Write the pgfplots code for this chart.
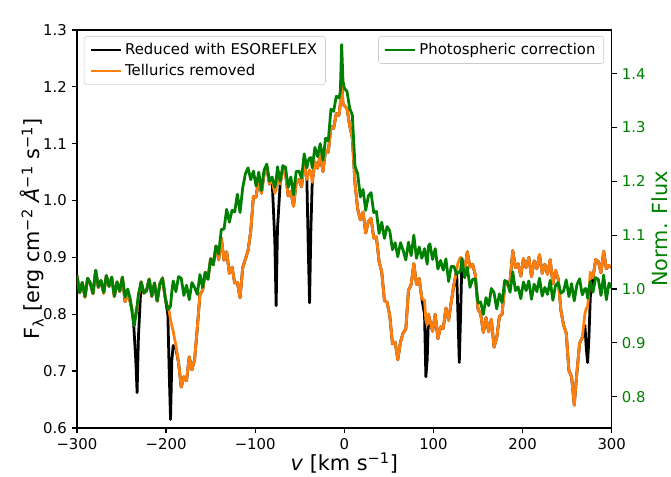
\documentclass[border=0pt]{standalone}
\usepackage{pgfplots}
\pgfplotsset{compat=1.18}
\usepackage{pgfplotstable}
\usepackage{fontspec}
\setmainfont{DejaVu Sans}
\definecolor{mplorange}{HTML}{FF7F0E}
\definecolor{mplgreen}{HTML}{008000}

\pgfplotstableread{
x b o g
-300 .868 .868 1.025
-297 .838 .838 .993
-294 .856 .856 1.012
-291 .830 .830 .986
-288 .863 .863 1.020
-285 .854 .854 1.011
-282 .836 .836 .992
-279 .877 .877 1.035
-276 .847 .847 1.004
-273 .859 .859 1.016
-270 .837 .837 .994
-267 .868 .868 1.025
-264 .849 .849 1.005
-261 .865 .865 1.022
-258 .831 .831 .987
-255 .857 .857 1.013
-252 .840 .840 .996
-249 .865 .865 1.022
-246 .822 .822 .985
-243 .838 .838 1.000
-240 .820 .820 .980
-237 .800 .800 .942
-235.5 .760 .790 .932
-234 .720 .795 .953
-232.5 .662 .810 .969
-231 .760 .830 .990
-228 .857 .857 1.013
-225 .837 .837 .993
-222 .841 .841 .997
-219 .862 .862 1.018
-216 .831 .831 .987
-213 .855 .855 1.011
-210 .823 .823 .978
-207 .853 .853 1.009
-204 .864 .864 1.020
-201 .829 .829 .985
-198 .800 .811 .962
-196.5 .700 .805 .964
-195 .615 .790 .968
-193.5 .720 .780 .996
-192 .745 .770 1.015
-189 .740 .745 .995
-186 .715 .715 1.023
-183 .672 .672 1.020
-180 .690 .690 .988
-177 .683 .683 1.007
-174 .725 .725 .980
-171 .702 .702 1.012
-168 .720 .720 1.003
-165 .775 .775 .990
-162 .835 .835 1.027
-159 .842 .842 1.003
-156 .874 .874 1.031
-153 .862 .862 1.018
-150 .898 .898 1.056
-147 .887 .887 1.045
-144 .920 .920 1.080
-141 .896 .896 1.065
-138 .934 .934 1.111
-135 .895 .895 1.111
-132 .910 .910 1.148
-129 .872 .872 1.124
-126 .883 .883 1.146
-123 .855 .855 1.143
-120 .856 .856 1.176
-117 .829 .829 1.142
-114 .882 .882 1.188
-111 .897 .897 1.214
-108 .912 .912 1.225
-105 .946 .946 1.203
-102 1.007 1.007 1.219
-99 1.006 1.006 1.191
-96 1.040 1.040 1.217
-93 1.013 1.013 1.183
-90 1.048 1.048 1.221
-87 1.059 1.059 1.232
-84 1.029 1.029 1.200
-81 1.036 1.036 1.208
-78 .930 1.013 1.189
-76.5 .815 1.020 1.201
-75 .950 1.044 1.227
-72 1.029 1.029 1.200
-69 1.056 1.056 1.229
-66 1.048 1.048 1.226
-63 1.008 1.008 1.189
-60 1.016 1.016 1.208
-57 .990 .990 1.175
-54 1.031 1.031 1.218
-51 1.037 1.037 1.219
-48 1.024 1.024 1.206
-45 1.067 1.067 1.251
-42 1.037 1.037 1.225
-40.5 .920 1.045 1.238
-39 .820 1.054 1.243
-37.5 .950 1.050 1.244
-36 1.032 1.032 1.225
-33 1.068 1.068 1.263
-30 1.057 1.057 1.246
-27 1.080 1.080 1.270
-24 1.051 1.051 1.239
-21 1.089 1.089 1.280
-18 1.085 1.085 1.275
-15 1.130 1.130 1.334
-12 1.127 1.127 1.330
-9 1.153 1.153 1.358
-6 1.150 1.150 1.355
-4.5 1.170 1.170 1.365
-3 1.210 1.210 1.454
-1.5 1.170 1.170 1.386
0 1.167 1.167 1.373
3 1.162 1.162 1.367
6 1.132 1.132 1.336
9 1.110 1.110 1.323
12 1.030 1.030 1.228
15 .985 .985 1.214
18 .966 .966 1.171
21 .980 .980 1.185
24 .943 .943 1.146
27 .963 .963 1.173
30 .969 .969 1.179
33 .934 .934 1.142
36 .936 .936 1.144
39 .893 .893 1.103
42 .874 .874 1.124
45 .824 .824 1.094
48 .821 .821 1.116
51 .798 .798 1.108
54 .748 .748 1.073
57 .751 .751 1.086
60 .720 .720 1.060
63 .751 .751 1.086
66 .767 .767 1.072
69 .774 .774 1.054
72 .842 .842 1.087
75 .852 .852 1.062
78 .889 .889 1.100
81 .852 .852 1.057
84 .863 .863 1.078
87 .827 .827 1.057
90 .800 .825 1.075
91.5 .690 .790 1.060
93 .720 .781 1.046
94.5 .800 .800 1.080
96 .789 .789 1.084
99 .770 .770 1.055
102 .800 .800 1.075
105 .757 .757 1.037
108 .778 .778 1.053
111 .775 .775 1.035
114 .811 .811 1.056
117 .789 .789 1.014
120 .822 .822 1.042
123 .852 .852 1.042
126 .877 .877 1.027
127.5 .800 .890 1.030
129 .715 .896 1.031
130.5 .800 .900 1.035
132 .897 .897 1.057
135 .876 .876 1.021
138 .910 .910 1.040
141 .883 .883 1.003
144 .888 .888 1.018
147 .869 .869 1.019
150 .809 .809 .974
153 .801 .801 .976
156 .768 .768 .953
159 .794 .794 .984
162 .769 .769 .969
165 .791 .791 1.001
168 .742 .742 .993
171 .758 .758 .963
174 .796 .796 .991
177 .800 .800 .975
180 .851 .851 1.016
183 .857 .857 1.012
186 .859 .859 .994
189 .912 .912 1.032
192 .882 .882 .997
195 .889 .889 1.004
198 .867 .867 .982
201 .898 .898 1.013
204 .882 .882 .997
207 .900 .900 1.015
210 .866 .866 .981
213 .894 .894 1.009
216 .880 .880 .995
219 .905 .905 1.020
222 .872 .872 .987
225 .888 .888 1.003
228 .870 .870 .990
231 .896 .896 1.016
234 .854 .854 .979
237 .877 .877 1.007
240 .862 .862 1.012
243 .807 .807 .992
246 .781 .781 .996
249 .767 .767 1.017
252 .701 .701 .986
255 .690 .690 1.010
258 .640 .640 .978
261 .698 .698 1.008
264 .749 .749 1.019
267 .759 .759 .989
270 .780 .801 1.001
271.5 .740 .810 1.000
273 .715 .813 .983
274.5 .760 .840 1.000
276 .830 .874 1.014
279 .864 .864 .994
282 .896 .896 1.021
285 .893 .893 1.018
288 .873 .873 .988
291 .911 .911 1.026
294 .880 .880 .980
297 .886 .886 1.011
300 .882 .882 1.002
}\spec

\begin{document}
\begin{tikzpicture}
\pgfplotsset{
  common/.style={
    scale only axis, width=385pt, height=286.5pt,
    xmin=-300, xmax=300,
    tick align=outside, major tick length=3.8pt,
    tick style={black, line width=0.85pt},
    axis line style={line width=0.85pt},
    ticklabel style={font=\fontsize{10.7}{12.5}\selectfont},
    legend image code/.code={\draw[##1, line width=2pt] (0pt,0pt) -- (21.5pt,0pt);},
  },
  mylegend/.style={
    draw=black!20, rounded corners=2pt, fill=white, fill opacity=0.8, text opacity=1,
    font=\fontsize{10.7}{12.5}\selectfont, inner xsep=4pt, inner ysep=3pt, row sep=1.5pt,
    cells={anchor=west},
  },
}
\begin{axis}[common,
  ymin=0.6, ymax=1.3,
  xtick={-300,-200,-100,0,100,200,300},
  xticklabels={−300,−200,−100,0,100,200,300},
  ytick={0.6,0.7,0.8,0.9,1.0,1.1,1.2,1.3},
  yticklabels={0.6,0.7,0.8,0.9,1.0,1.1,1.2,1.3},
  xtick pos=bottom, ytick pos=left,
  xlabel={\textit{v} [km s\textsuperscript{−1}]},
  ylabel={F\textsubscript{λ} [erg cm\textsuperscript{−2} \textit{Å}\textsuperscript{−1} s\textsuperscript{−1}]},
  every axis x label/.style={at={(axis description cs:0.5,0)}, anchor=base, yshift=-31pt, font=\fontsize{15}{17}\selectfont},
  every axis y label/.style={at={(axis description cs:-0.084,0.5)}, rotate=90, anchor=center, font=\fontsize{15}{17}\selectfont},
  legend style={mylegend, at={(axis description cs:0,1)}, anchor=north west, xshift=5pt, yshift=-4.3pt},
]
\addplot[black, line width=2pt, line join=round] table[x=x,y=b]{\spec};
\addlegendentry{Reduced with ESOREFLEX}
\addplot[mplorange, line width=2pt, line join=round] table[x=x,y=o]{\spec};
\addlegendentry{Tellurics removed}
\node[anchor=south west, inner sep=0pt, font=\fontsize{10.7}{12.5}\selectfont, yshift=3pt] at (rel axis cs:0,1) {1e−14};
\end{axis}
\begin{axis}[common,
  ymin=0.742, ymax=1.481,
  hide x axis, axis y line*=right,
  ytick={0.8,0.9,1.0,1.1,1.2,1.3,1.4},
  yticklabels={0.8,0.9,1.0,1.1,1.2,1.3,1.4},
  yticklabel style={text=mplgreen},
  ylabel={Norm. Flux},
  every axis y label/.style={at={(axis description cs:1.089,0.5)}, rotate=90, anchor=center, text=mplgreen, font=\fontsize{15}{17}\selectfont},
  legend style={mylegend, at={(axis description cs:1,1)}, anchor=north east, xshift=-5.5pt, yshift=-4.3pt},
]
\addplot[mplgreen, line width=2pt, line join=round] table[x=x,y=g]{\spec};
\addlegendentry{Photospheric correction}
\end{axis}
\pgfresetboundingbox
\useasboundingbox (-55.4pt,-35.3pt) rectangle (427.7pt,308.1pt);
\end{tikzpicture}
\end{document}
